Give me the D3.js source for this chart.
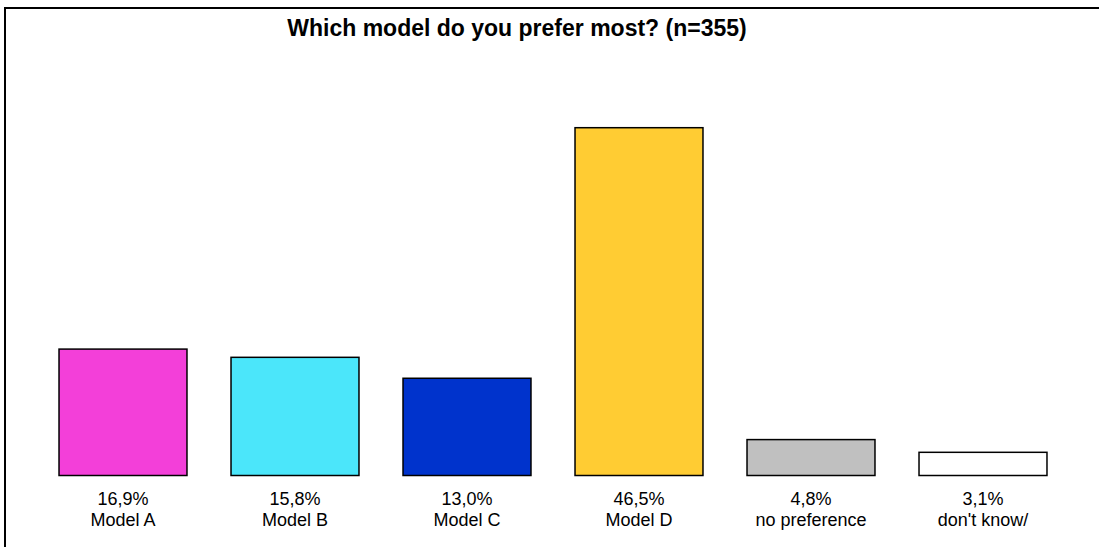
<!DOCTYPE html>
<html>
<head>
<meta charset="utf-8">
<script src="https://cdn.jsdelivr.net/npm/d3@7"></script>
<style>
html,body{margin:0;padding:0;background:#fff;overflow:hidden;}
svg{display:block;font-family:Arial,"Liberation Sans",sans-serif;}
</style>
</head>
<body>
<svg id="chart" width="1099" height="547"></svg>
<script>
const title = "Which model do you prefer most? (n=355)";
const categories = ["Model A","Model B","Model C","Model D","no preference","don't know/"];
const values = [16.9, 15.8, 13.0, 46.5, 4.8, 3.1];
const valueLabels = ["16,9%","15,8%","13,0%","46,5%","4,8%","3,1%"];
const colors = ["#F33FD9","#4BE6FA","#0033CC","#FFCC33","#C0C0C0","#FFFFFF"];

const svg = d3.select("#chart");

// frame: only top and left edges are visible
svg.append("line").attr("x1",5).attr("y1",8).attr("x2",1099).attr("y2",8)
  .attr("stroke","#000").attr("stroke-width",2);
svg.append("line").attr("x1",5).attr("y1",7).attr("x2",5).attr("y2",547)
  .attr("stroke","#000").attr("stroke-width",2);

svg.append("text").attr("x",517).attr("y",36).attr("text-anchor","middle")
  .attr("font-size",23).attr("font-weight","bold").attr("fill","#000").text(title);

const x = d3.scaleBand().domain(categories).range([37,1069]).paddingInner(0.256).paddingOuter(0.128);
const y = d3.scaleLinear().domain([0,46.5]).range([475.5,127.7]);

const data = categories.map((c,i)=>({c, v:values[i], l:valueLabels[i], col:colors[i]}));

svg.selectAll("rect.bar").data(data).enter().append("rect").attr("class","bar")
  .attr("x",d=>x(d.c)).attr("width",x.bandwidth())
  .attr("y",d=>y(d.v)).attr("height",d=>y(0)-y(d.v))
  .attr("fill",d=>d.col).attr("stroke","#000").attr("stroke-width",1.5);

const lab = svg.selectAll("g.lab").data(data).enter().append("g").attr("class","lab")
  .attr("transform",d=>`translate(${x(d.c)+x.bandwidth()/2},0)`);
lab.append("text").attr("y",505).attr("text-anchor","middle").attr("font-size",18).attr("fill","#000").text(d=>d.l);
lab.append("text").attr("y",526).attr("text-anchor","middle").attr("font-size",18).attr("fill","#000").text(d=>d.c);
</script>
</body>
</html>
